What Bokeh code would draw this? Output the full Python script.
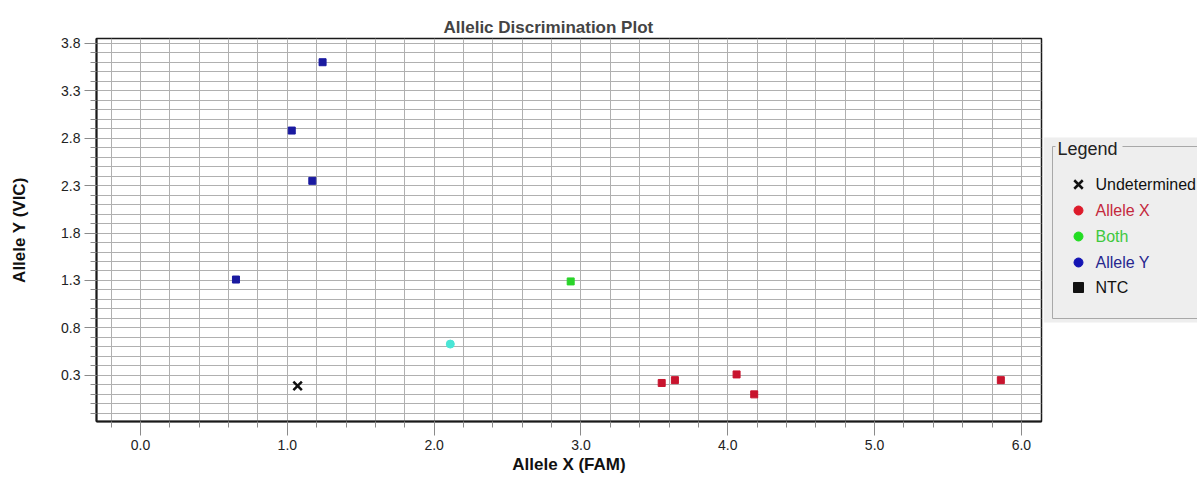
import numpy as np
from bokeh.plotting import figure
from bokeh.models import Range1d, FixedTicker, PrintfTickFormatter
from bokeh.layouts import row
from bokeh.core.properties import value
from bokeh.embed import file_html
from bokeh.resources import INLINE

# ---------------- data ----------------
undet_x = [1.07]
undet_y = [0.19]
allele_x_x = [3.55, 3.64, 4.06, 4.18, 5.86]
allele_x_y = [0.22, 0.25, 0.31, 0.10, 0.25]
both_x = [2.93]
both_y = [1.29]
allele_y_x = [1.24, 1.03, 1.17, 0.65]
allele_y_y = [3.60, 2.88, 2.35, 1.31]
other_x = [2.11]
other_y = [0.63]

x_ticks = [0.0, 1.0, 2.0, 3.0, 4.0, 5.0, 6.0]
y_ticks = [0.3, 0.8, 1.3, 1.8, 2.3, 2.8, 3.3, 3.8]

legend_labels = ["Undetermined", "Allele X", "Both", "Allele Y", "NTC"]

FONT = "Liberation Sans"

# ---------------- main plot ----------------
p = figure(width=1043, height=478,
           x_range=Range1d(-0.30, 6.137), y_range=Range1d(-0.186, 3.85),
           output_backend="svg", toolbar_location=None,
           min_border_left=96, min_border_right=2,
           min_border_top=38, min_border_bottom=57,
           background_fill_color="white", border_fill_color="white")

p.title.text = "Allelic Discrimination Plot"
p.title.text_font = FONT
p.title.text_font_size = "17px"
p.title.text_font_style = "bold"
p.title.align = "left"
p.title.offset = 347
p.title.standoff = 4

x_minor = [round(v, 2) for v in np.arange(-0.2, 6.11, 0.2)]
y_minor = [round(v, 2) for v in np.arange(-0.1, 3.81, 0.1)]

p.xaxis.ticker = FixedTicker(ticks=x_ticks, minor_ticks=x_minor)
p.yaxis.ticker = FixedTicker(ticks=y_ticks, minor_ticks=y_minor)
p.xaxis.formatter = PrintfTickFormatter(format="%.1f")
p.yaxis.formatter = PrintfTickFormatter(format="%.1f")

p.xgrid.ticker = FixedTicker(ticks=x_minor)
p.ygrid.ticker = FixedTicker(ticks=y_minor)
for g in (p.xgrid, p.ygrid):
    g.grid_line_color = "#b0b0b0"
    g.grid_line_width = 1

for ax in (p.xaxis, p.yaxis):
    ax.axis_line_color = "#1a1a1a"
    ax.axis_line_width = 2
    ax.major_tick_line_color = "#8a8a8a"
    ax.minor_tick_line_color = "#8a8a8a"
    ax.major_tick_in = 0
    ax.minor_tick_in = 0
    ax.major_label_text_font = FONT
    ax.major_label_text_font_size = "14px"
    ax.major_label_text_color = "#222222"
    ax.axis_label_text_font = FONT
    ax.axis_label_text_font_size = "17px"
    ax.axis_label_text_font_style = "bold"
    ax.axis_label_text_color = "#111111"

p.xaxis.major_tick_out = 14
p.xaxis.minor_tick_out = 6
p.xaxis.major_label_standoff = 4
p.xaxis.axis_label = "Allele X (FAM)"
p.xaxis.axis_label_standoff = 2

p.yaxis.major_tick_out = 12
p.yaxis.minor_tick_out = 6
p.yaxis.major_label_standoff = 4
p.yaxis.axis_label = "Allele Y (VIC)"
p.yaxis.axis_label_standoff = 29

p.outline_line_color = "#1a1a1a"
p.outline_line_width = 1.5

p.scatter(allele_y_x, allele_y_y, marker="square", size=7,
          fill_color="#1a1aa0", line_color="#1a1aa0")
p.scatter(allele_x_x, allele_x_y, marker="square", size=7,
          fill_color="#c8142e", line_color="#c8142e")
p.scatter(both_x, both_y, marker="square", size=7,
          fill_color="#2ad42a", line_color="#2ad42a")
p.scatter(other_x, other_y, marker="circle", size=8,
          fill_color="#4ae6d6", line_color="#4ae6d6")
p.scatter(undet_x, undet_y, marker="x", size=12,
          line_color="#111111", line_width=2.5)

# ---------------- legend panel (coordinates = page pixels) ----------------
leg = figure(width=154, height=478,
             x_range=Range1d(1043, 1197), y_range=Range1d(421, 38),
             output_backend="svg", toolbar_location=None,
             x_axis_type=None, y_axis_type=None,
             min_border_left=0, min_border_right=0,
             min_border_top=38, min_border_bottom=57,
             background_fill_color="white", border_fill_color="white")
leg.outline_line_color = None
leg.grid.visible = False

leg.quad(left=[1043], right=[1200], top=[137], bottom=[322],
         fill_color="#eeeeee", line_color=None)
# titled border
leg.segment(x0=[1052, 1052, 1052, 1122], y0=[146, 318, 146, 146],
            x1=[1052, 1200, 1055, 1200], y1=[318, 318, 146, 146],
            line_color="#a8a8a8", line_width=1)
leg.text(x=[1057], y=[148], text=["Legend"],
         text_font=value(FONT), text_font_size="18px",
         text_color="#222222", text_baseline="middle", text_align="left")

ys = [184, 210, 236, 262, 287]
text_colors = ["#111111", "#c4283c", "#3ec83e", "#26268e", "#111111"]
leg.text(x=[1095] * 5, y=ys, text=legend_labels,
         text_font=value(FONT), text_font_size="16px",
         text_color=text_colors, text_baseline="middle", text_align="left")

leg.scatter([1078], [ys[0]], marker="x", size=12, line_color="#111111", line_width=2.5)
leg.scatter([1078, 1078, 1078], ys[1:4], marker="circle", size=9,
            fill_color=["#dd1a2a", "#22dd22", "#1414b4"],
            line_color=["#dd1a2a", "#22dd22", "#1414b4"])
leg.scatter([1078], [ys[4]], marker="square", size=10,
            fill_color="#111111", line_color="#111111")

layout = row(p, leg, spacing=0)
open("out.html", "w").write(file_html(layout, INLINE))
